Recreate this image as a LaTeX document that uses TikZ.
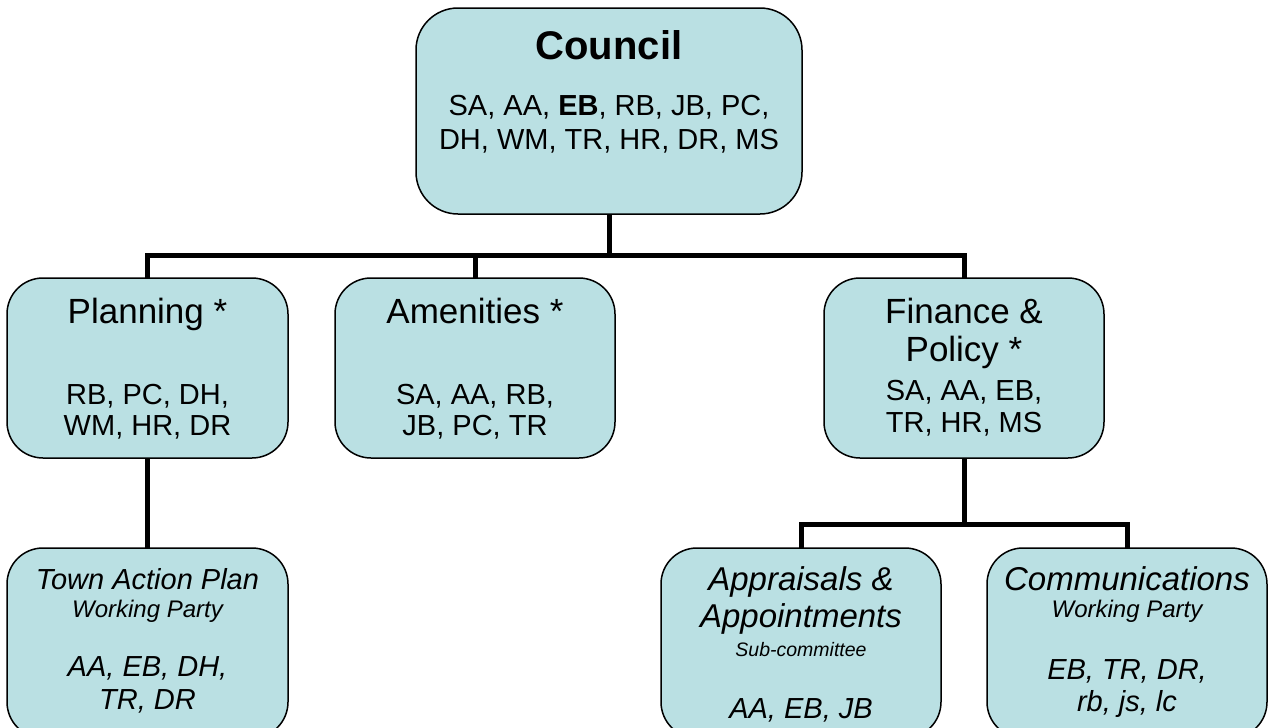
\documentclass[tikz,border=0pt]{standalone}
\usepackage{fontspec}
\setmainfont{Liberation Sans}
\definecolor{boxfill}{RGB}{186,224,227}
\begin{document}
\begin{tikzpicture}[x=1pt,y=-1pt,
  box/.style={draw=black, line width=1.5pt, fill=boxfill, rounded corners=36pt,
    minimum width=280pt, minimum height=180pt, inner sep=0pt, outer sep=0pt},
  conn/.style={line width=5pt, draw=black},
  lbl/.style={anchor=base, inner sep=0pt, align=center},
  ftitle/.style={font=\fontsize{35}{35}\selectfont},
  fmem/.style={font=\fontsize{29}{29}\selectfont},
  fimem/.style={font=\fontsize{29}{29}\selectfont\itshape},
  fititle/.style={font=\fontsize{33}{33}\selectfont\itshape},
  fsub/.style={font=\fontsize{24}{24}\selectfont\itshape},
  fsubsmall/.style={font=\fontsize{19.5}{19.5}\selectfont\itshape}]
\useasboundingbox (0,0) rectangle (1270,728);
\clip (0,0) rectangle (1270,728);

% boxes
\node[box, minimum width=386pt, minimum height=206pt, rounded corners=42pt] (council) at (609,111) {};
\node[box, minimum width=281pt] (planning) at (147.5,368) {};
\node[box] (amenities) at (475,368) {};
\node[box] (finance) at (964,368) {};
\node[box, minimum width=281pt, minimum height=190pt] (town) at (147.5,643) {};
\node[box, minimum height=190pt] (appraisals) at (801,643) {};
\node[box, minimum height=190pt] (comms) at (1127,643) {};

% connectors
\coordinate (bus) at (609,255);
\coordinate (subbus) at (964,524);
\draw[conn] (council.south) -- (bus);
\draw[conn] (planning.north) |- (bus) -| (finance.north);
\draw[conn] (amenities.north) -- (amenities.north |- bus);
\draw[conn] (planning.south) -- (town.north);
\draw[conn] (finance.south) -- (subbus);
\draw[conn] (appraisals.north) |- (subbus) -| (comms.north);

% council text
\node[lbl, font=\fontsize{40}{40}\selectfont\bfseries] (councilT) at (609,59) {Council};
\node[lbl, fmem] (councilA) at (609,115) {SA, AA, \textbf{EB}, RB, JB, PC,};
\node[lbl, fmem] (councilB) at (609,149) {DH, WM, TR, HR, DR, MS};

% planning
\node[lbl, ftitle] (planT) at (147.5,323) {Planning *};
\node[lbl, fmem] (planA) at (147.5,404) {RB, PC, DH,};
\node[lbl, fmem] (planB) at (147.5,435) {WM, HR, DR};

% amenities
\node[lbl, ftitle] (amenT) at (475,323) {Amenities *};
\node[lbl, fmem] (amenA) at (475,404) {SA, AA, RB,};
\node[lbl, fmem] (amenB) at (475,435) {JB, PC, TR};

% finance
\node[lbl, ftitle] (finT) at (964,323) {Finance \&};
\node[lbl, ftitle] (finT2) at (964,361) {Policy *};
\node[lbl, fmem] (finA) at (964,400) {SA, AA, EB,};
\node[lbl, fmem] (finB) at (964,432) {TR, HR, MS};

% town action plan
\node[lbl, fimem] (townT) at (147.5,589) {Town Action Plan};
\node[lbl, fsub] (townS) at (147.5,617) {Working Party};
\node[lbl, fimem] (townA) at (147.5,676) {AA, EB, DH,};
\node[lbl, fimem] (townB) at (147.5,709) {TR, DR};

% appraisals
\node[lbl, fititle] (appT) at (801,590) {Appraisals \&};
\node[lbl, fititle] (appT2) at (801,627) {Appointments};
\node[lbl, fsubsmall] (appS) at (801,656) {Sub-committee};
\node[lbl, fimem] (appA) at (801,718) {AA, EB, JB};

% communications
\node[lbl, fititle] (comT) at (1127,590) {Communications};
\node[lbl, fsub] (comS) at (1127,617) {Working Party};
\node[lbl, fimem] (comA) at (1127,679) {EB, TR, DR,};
\node[lbl, fimem] (comB) at (1127,711) {rb, js, lc};
\end{tikzpicture}
\end{document}
